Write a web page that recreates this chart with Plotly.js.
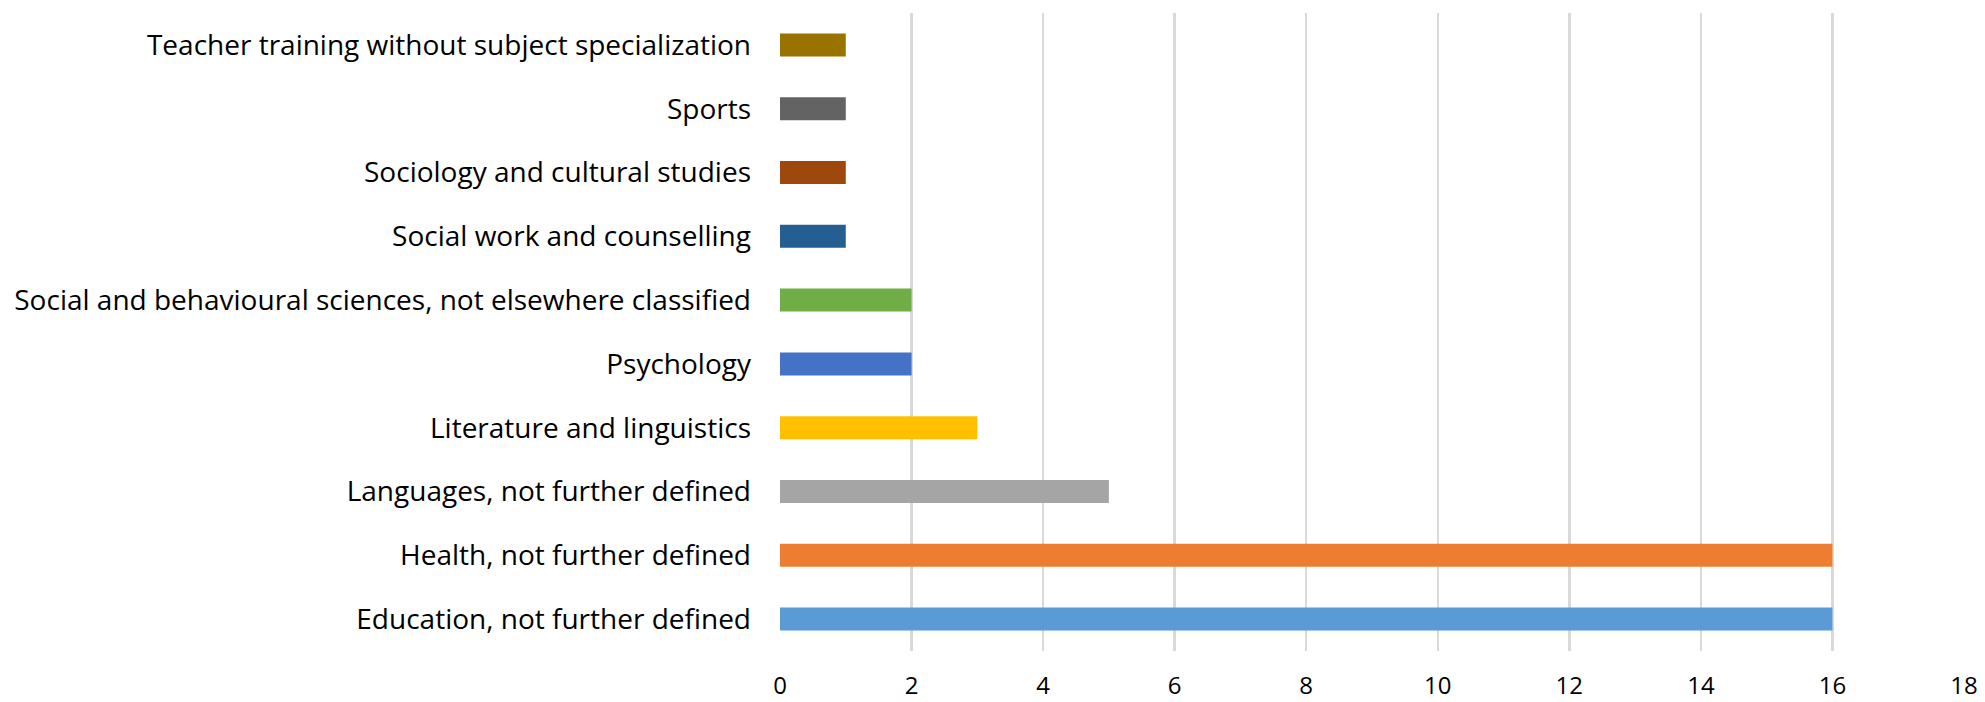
<!DOCTYPE html>
<html><head><meta charset="utf-8">
<script src="https://cdn.plot.ly/plotly-3.0.1.min.js"></script>
<style>html,body{margin:0;padding:0;background:#fff}#chart{width:1985px;height:702px}</style>
</head><body><div id="chart"></div>
<script>
const categories = [
  "Education, not further defined",
  "Health, not further defined",
  "Languages, not further defined",
  "Literature and linguistics",
  "Psychology",
  "Social and behavioural sciences, not elsewhere classified",
  "Social work and counselling",
  "Sociology and cultural studies",
  "Sports",
  "Teacher training without subject specialization"
];
const values = [16, 16, 5, 3, 2, 2, 1, 1, 1, 1];
const barColors = ["#5B9BD5","#ED7D31","#A5A5A5","#FFC000","#4472C4","#70AD47","#255E91","#9E480E","#636363","#997300"];
const xTicks = [0,2,4,6,8,10,12,14,16,18];

const yFont = {family: "Open Sans, Arial, sans-serif", size: 28, color: "#000"};
const xFont = {family: "Open Sans, Arial, sans-serif", size: 24, color: "#000"};
Plotly.newPlot("chart", [{
  type: "bar", orientation: "h",
  y: categories, x: values,
  marker: {color: barColors},
  width: 0.36,
  hoverinfo: "x+y"
}], {
  width: 1985, height: 702,
  margin: {l: 780, r: 21, t: 13, b: 51, pad: 0},
  paper_bgcolor: "#fff", plot_bgcolor: "#fff",
  font: yFont,
  showlegend: false,
  xaxis: {
    range: [0, 18], tickvals: xTicks, ticktext: xTicks.map(String),
    showgrid: true, gridcolor: "#d9d9d9", gridwidth: 2.5,
    zeroline: false, showline: false,
    ticks: "", ticklabelstandoff: 18, tickfont: xFont, fixedrange: true
  },
  yaxis: {
    type: "category", categoryorder: "array", categoryarray: categories,
    range: [-0.5, 9.5],
    showgrid: false, zeroline: false, showline: false,
    ticks: "", ticklabelstandoff: 28, tickfont: yFont, fixedrange: true
  }
}, {displayModeBar: false, staticPlot: true});
</script>
</body></html>
